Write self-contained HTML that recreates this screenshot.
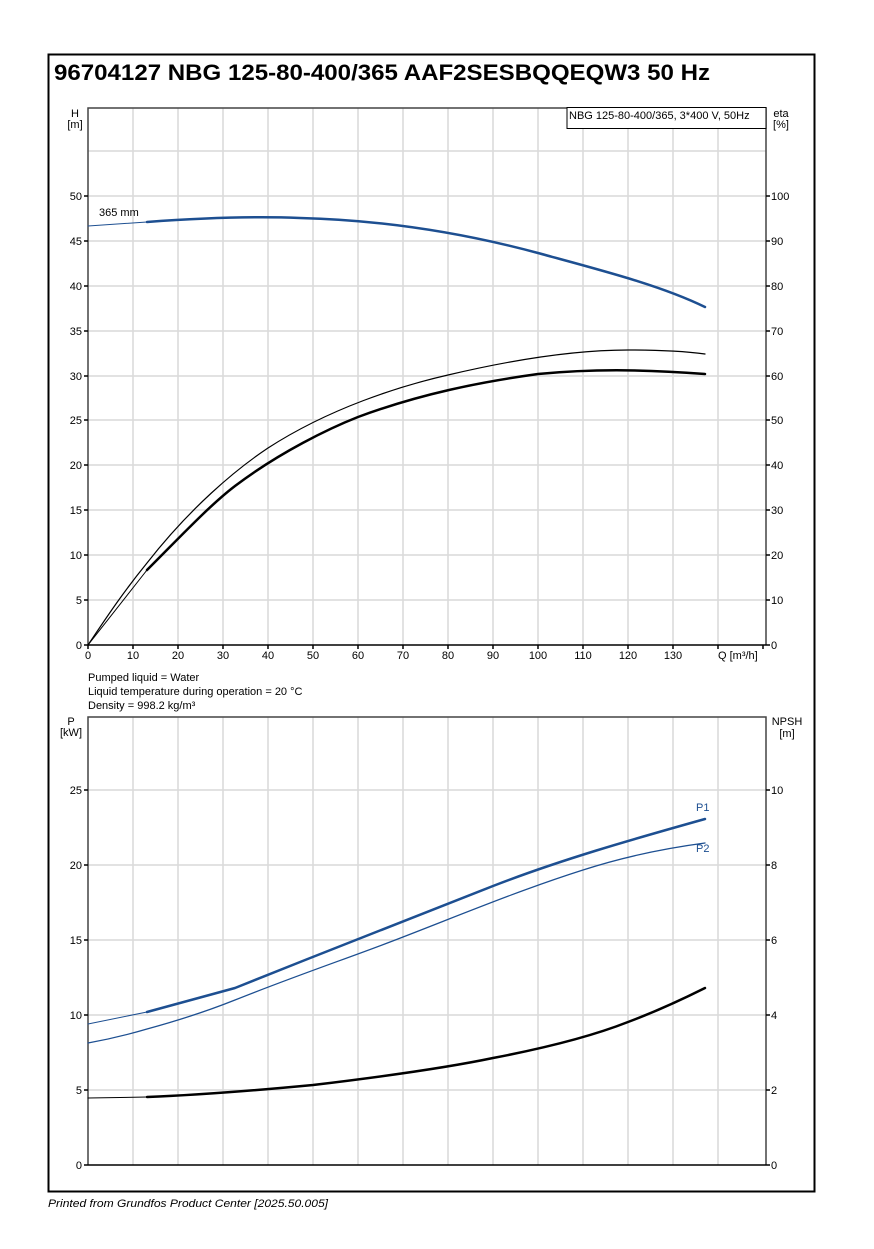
<!DOCTYPE html>
<html><head><meta charset="utf-8"><style>
body{margin:0;background:#fff;}
svg{display:block;font-family:"Liberation Sans",sans-serif;}
</style></head><body>
<svg width="874" height="1249" viewBox="0 0 874 1249" xmlns="http://www.w3.org/2000/svg">
<rect x="48.5" y="54.5" width="766" height="1137" fill="none" stroke="#000" stroke-width="2"/>
<text x="54" y="80" font-size="22" font-weight="bold" textLength="656" lengthAdjust="spacingAndGlyphs">96704127 NBG 125-80-400/365 AAF2SESBQQEQW3 50 Hz</text>
<g stroke="#d9d9d9" stroke-width="1.5">
<path d="M133 108V645M178 108V645M223 108V645M268 108V645M313 108V645M358 108V645M403 108V645M448 108V645M493 108V645M538 108V645M583 108V645M628 108V645M673 108V645M718 108V645"/>
<path d="M88 151H766M88 196H766M88 241H766M88 286H766M88 331H766M88 376H766M88 420H766M88 465H766M88 510H766M88 555H766M88 600H766"/>
<path d="M133 717V1165M178 717V1165M223 717V1165M268 717V1165M313 717V1165M358 717V1165M403 717V1165M448 717V1165M493 717V1165M538 717V1165M583 717V1165M628 717V1165M673 717V1165M718 717V1165"/>
<path d="M88 790H766M88 865H766M88 940H766M88 1015H766M88 1090H766"/>
</g>
<path d="M88 645V108H766V645" fill="none" stroke="#444" stroke-width="1.5"/>
<path d="M88 645H766" stroke="#000" stroke-width="1.5"/>
<path d="M88 1165V717H766V1165" fill="none" stroke="#444" stroke-width="1.5"/>
<path d="M88 1165H766" stroke="#000" stroke-width="1.5"/>
<g stroke="#000" stroke-width="1.5">
<path d="M84 645H88M84 600H88M84 555H88M84 510H88M84 465H88M84 420H88M84 376H88M84 331H88M84 286H88M84 241H88M84 196H88"/>
<path d="M766 645H770M766 600H770M766 555H770M766 510H770M766 465H770M766 420H770M766 376H770M766 331H770M766 286H770M766 241H770M766 196H770"/>
<path d="M88 645V649M133 645V649M178 645V649M223 645V649M268 645V649M313 645V649M358 645V649M403 645V649M448 645V649M493 645V649M538 645V649M583 645V649M628 645V649M673 645V649M718 645V649M763 645V649"/>
<path d="M84 1165H88M84 1090H88M84 1015H88M84 940H88M84 865H88M84 790H88"/>
<path d="M766 1165H770M766 1090H770M766 1015H770M766 940H770M766 865H770M766 790H770"/>
</g>
<g font-size="11" text-anchor="end">
<text x="82" y="649">0</text><text x="82" y="604">5</text><text x="82" y="559">10</text><text x="82" y="514">15</text><text x="82" y="469">20</text><text x="82" y="424">25</text><text x="82" y="380">30</text><text x="82" y="335">35</text><text x="82" y="290">40</text><text x="82" y="245">45</text><text x="82" y="200">50</text>
<text x="82" y="1169">0</text><text x="82" y="1094">5</text><text x="82" y="1019">10</text><text x="82" y="944">15</text><text x="82" y="869">20</text><text x="82" y="794">25</text>
</g>
<g font-size="11">
<text x="771" y="649">0</text><text x="771" y="604">10</text><text x="771" y="559">20</text><text x="771" y="514">30</text><text x="771" y="469">40</text><text x="771" y="424">50</text><text x="771" y="380">60</text><text x="771" y="335">70</text><text x="771" y="290">80</text><text x="771" y="245">90</text><text x="771" y="200">100</text>
<text x="771" y="1169">0</text><text x="771" y="1094">2</text><text x="771" y="1019">4</text><text x="771" y="944">6</text><text x="771" y="869">8</text><text x="771" y="794">10</text>
</g>
<g font-size="11" text-anchor="middle">
<text x="88" y="659">0</text><text x="133" y="659">10</text><text x="178" y="659">20</text><text x="223" y="659">30</text><text x="268" y="659">40</text><text x="313" y="659">50</text><text x="358" y="659">60</text><text x="403" y="659">70</text><text x="448" y="659">80</text><text x="493" y="659">90</text><text x="538" y="659">100</text><text x="583" y="659">110</text><text x="628" y="659">120</text><text x="673" y="659">130</text>
<text x="75" y="117">H</text><text x="75" y="128">[m]</text>
<text x="781" y="117">eta</text><text x="781" y="128">[%]</text>
<text x="71" y="725">P</text><text x="71" y="736">[kW]</text>
<text x="787" y="725">NPSH</text><text x="787" y="737">[m]</text>
</g>
<text x="718" y="659" font-size="11">Q [m³/h]</text>
<rect x="567" y="107.5" width="199" height="21" fill="#fff" stroke="#000" stroke-width="1"/>
<text x="569" y="119" font-size="11">NBG 125-80-400/365, 3*400 V, 50Hz</text>
<text x="99" y="216" font-size="11">365 mm</text>
<g font-size="11"><text x="88" y="681">Pumped liquid = Water</text><text x="88" y="695">Liquid temperature during operation = 20 °C</text><text x="88" y="709">Density = 998.2 kg/m³</text></g>
<text x="48" y="1207" font-size="11" font-style="italic" textLength="280" lengthAdjust="spacingAndGlyphs">Printed from Grundfos Product Center [2025.50.005]</text>
<g fill="none" stroke-linecap="round" stroke-linejoin="round">
<path d="M88 226L147 222" stroke="#1d4f91" stroke-width="1"/>
<path d="M147 222C200 218 250 216 300 218C380 220 460 232 538 253C600 270 660 285 705 307" stroke="#1d4f91" stroke-width="2.5"/>
<path d="M88 645C110 612 125 590 147 563C190 508 235 470 268 448C330 408 400 386 448 375C520 358 580 350 628 350C665 350 690 352 705 354" stroke="#000" stroke-width="1.2"/>
<path d="M88 645L147 570" stroke="#000" stroke-width="1"/>
<path d="M147 570C180 537 210 505 235 486C280 452 330 428 358 417C420 394 480 382 538 374C590 369 640 369 705 374" stroke="#000" stroke-width="2.5"/>
<path d="M88 1024L147 1012" stroke="#1d4f91" stroke-width="1"/>
<path d="M147 1012L235 988C320 954 400 922 493 886C560 860 630 840 705 819" stroke="#1d4f91" stroke-width="2.5"/>
<path d="M88 1043C110 1039 130 1034 147 1029C180 1020 210 1010 235 1000C300 974 360 954 403 937C460 915 520 890 583 870C620 858 660 849 705 843" stroke="#1d4f91" stroke-width="1.3"/>
<path d="M88 1098L147 1097" stroke="#000" stroke-width="1"/>
<path d="M147 1097C200 1095 250 1091 313 1085C380 1077 450 1067 493 1058C540 1049 590 1037 628 1022C660 1010 685 998 705 988" stroke="#000" stroke-width="2.5"/>
</g>
<text x="696" y="811" font-size="11" fill="#1d4f91">P1</text>
<text x="696" y="852" font-size="11" fill="#1d4f91">P2</text>
</svg>
</body></html>
